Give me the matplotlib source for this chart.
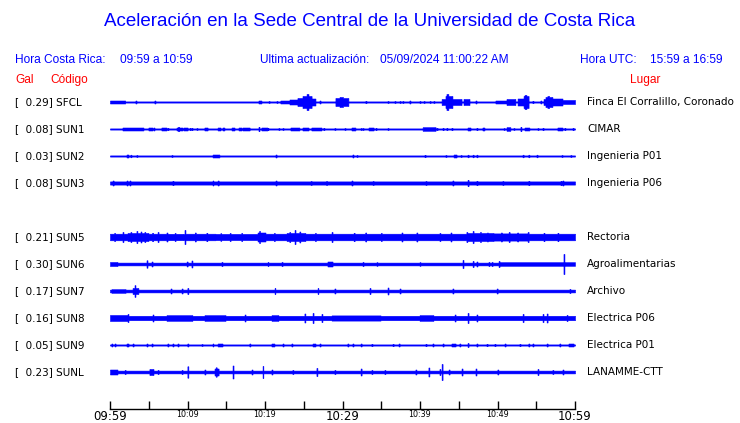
import numpy as np
import matplotlib
matplotlib.use("Agg")
import matplotlib.pyplot as plt

# --- datos ---------------------------------------------------------------
codes = ["SFCL", "SUN1", "SUN2", "SUN3", "SUN5", "SUN6", "SUN7", "SUN8", "SUN9", "SUNL"]
gal = [0.29, 0.08, 0.03, 0.08, 0.21, 0.30, 0.17, 0.16, 0.05, 0.23]
places = ["Finca El Corralillo, Coronado", "CIMAR", "Ingenieria P01", "Ingenieria P06",
          "Rectoria", "Agroalimentarias", "Archivo", "Electrica P06", "Electrica P01",
          "LANAMME-CTT"]
tick_labels = ["09:59", "10:09", "10:19", "10:29", "10:39", "10:49", "10:59"]

# nivel de ruido de fondo de cada traza
base = [0.6, 0.6, 0.6, 1.6, 2.7, 1.4, 1.4, 2.2, 0.6, 1.4]

# eventos: (minuto inicio, minuto fin, amplitud)
ev_SFCL = [(0.0, 1.9, 1.5), (3.35, 3.35, 1.5), (5.81, 5.81, 1.5), (19.23, 19.48, 1.5),
           (20.52, 20.52, 1), (21.55, 21.55, 1), (22.06, 23.23, 1.5), (23.23, 24.26, 2.5),
           (24.26, 24.9, 4), (24.9, 25.94, 6), (25.42, 25.55, 8), (25.94, 26.45, 3.5),
           (27.10, 27.10, 1.5), (29.16, 30.71, 4), (29.68, 30.0, 5), (33.03, 33.03, 1.2),
           (35.87, 35.87, 1), (36.77, 36.77, 1), (37.42, 37.42, 1), (37.81, 37.81, 1),
           (38.71, 38.71, 1.5), (40.0, 40.0, 1), (40.52, 40.52, 1), (41.29, 41.29, 1),
           (41.81, 41.81, 1), (42.84, 43.35, 3), (43.35, 44.13, 6), (43.48, 43.61, 8),
           (44.13, 45.29, 3), (45.68, 46.32, 3), (47.23, 47.23, 1.5), (49.81, 51.23, 1.5),
           (51.23, 52.26, 3), (52.65, 53.42, 3.5), (53.42, 53.94, 6), (53.55, 53.68, 7),
           (54.58, 54.58, 1.2), (55.61, 55.61, 1.5), (56.0, 56.9, 3), (56.26, 57.03, 5),
           (56.5, 56.6, 6), (57.03, 58.32, 3.5), (58.32, 60, 2)]
ev_SUN1 = [(1.68, 3.35, 1.5), (3.48, 4.26, 1.5), (5.03, 5.42, 1.5), (5.68, 5.68, 1.5),
           (6.71, 7.23, 1.5), (7.48, 7.48, 1.2), (8.65, 9.29, 1.5), (8.85, 8.85, 2.2),
           (9.55, 9.94, 1.5), (10.32, 10.32, 1.2), (10.58, 10.58, 1.2), (11.23, 11.23, 1),
           (12.26, 12.52, 1.5), (13.94, 14.19, 1.5), (14.58, 14.71, 1.5), (15.74, 16.0, 1.5),
           (16.65, 16.90, 1.5), (17.16, 17.94, 1.5), (19.23, 19.23, 2.2), (19.61, 20.26, 1.5),
           (20.39, 20.39, 1.2), (21.81, 21.81, 1), (22.32, 22.32, 1), (23.35, 24.39, 1.5),
           (24.9, 25.55, 1.5), (26.06, 27.23, 1.5), (27.61, 27.61, 1.2), (29.03, 29.03, 1),
           (30.32, 30.32, 1), (31.23, 31.61, 1.5), (32.39, 32.39, 1), (32.65, 32.65, 1),
           (33.42, 33.94, 1.5), (34.32, 34.32, 1.2), (35.87, 35.87, 1), (40.39, 41.94, 1.8),
           (42.19, 42.19, 1.2), (42.97, 42.97, 1.2), (43.48, 43.48, 1.2), (44.13, 44.13, 1.2),
           (46.19, 46.45, 1.5), (47.35, 47.35, 1.2), (48.13, 48.26, 1.5), (50.84, 50.84, 1),
           (51.23, 51.61, 1.8), (52.13, 52.13, 1), (53.03, 53.03, 2.2), (53.55, 54.06, 1.5),
           (55.23, 55.23, 1), (55.87, 55.87, 1.2), (57.81, 58.32, 1.5), (58.71, 58.71, 1.2),
           (59.74, 59.74, 1.2)]
ev_SUN2 = [(2.19, 2.32, 1.5), (2.71, 2.71, 1.3), (3.48, 3.48, 1), (8.0, 8.0, 1),
           (13.29, 14.06, 1.5), (21.42, 21.42, 1.5), (31.35, 31.35, 1.5), (31.87, 31.87, 1),
           (40.65, 40.65, 1.2), (43.35, 43.35, 1), (44.39, 44.65, 1.5), (45.29, 45.29, 1),
           (46.19, 46.19, 1.3), (46.84, 46.84, 1.3), (47.35, 47.35, 1.3), (53.29, 53.29, 1.3),
           (54.06, 54.06, 1.3), (55.10, 55.10, 1.3), (58.32, 58.32, 1), (59.48, 59.48, 1)]
ev_SUN3 = [(0.39, 0.39, 2.5), (2.19, 2.19, 2.5), (2.58, 2.58, 2.5), (8.13, 8.13, 2.2),
           (13.29, 13.29, 2.5), (13.94, 13.94, 2.5), (21.42, 21.42, 2.5), (25.94, 25.94, 2),
           (27.96, 27.96, 2), (31.23, 31.23, 2.5), (33.94, 33.94, 2), (40.77, 40.77, 2),
           (44.26, 44.26, 2.5), (46.19, 46.19, 3.2), (47.35, 47.35, 2.2), (50.71, 50.71, 2),
           (54.06, 54.06, 2.2), (58.19, 58.19, 2.2), (58.45, 58.45, 2.5)]
ev_SUN5 = [(0, 2.32, 3.3), (1.68, 1.68, 5), (0.6, 0.6, 4), (2.32, 4.9, 4), (2.7, 2.7, 5),
           (3.48, 3.48, 6), (4.0, 4.0, 5.5), (4.5, 4.5, 5), (4.9, 7.48, 3.3), (6.19, 6.19, 5),
           (5.5, 5.5, 4.2), (7.35, 7.35, 4.5), (7.48, 9.42, 3.2), (8.4, 8.4, 4),
           (9.68, 9.68, 7), (9.68, 13.55, 3.3), (11.0, 11.0, 4.5), (12.5, 12.5, 4.2),
           (13.55, 19.10, 3.1), (14.3, 14.3, 3.8), (15.5, 15.5, 4), (17.0, 17.0, 4),
           (19.10, 20.0, 4.5), (19.3, 19.3, 6), (20.0, 22.84, 3.3), (21.2, 21.2, 4),
           (22.84, 25.16, 4), (23.87, 23.87, 7), (24.5, 24.5, 5.5), (23.2, 23.2, 5),
           (25.16, 30.32, 3.3), (26.5, 26.5, 4), (28.65, 28.65, 5), (30.32, 37.42, 3.3),
           (31.5, 31.5, 4.2), (33, 33, 4.5), (35, 35, 4), (37.68, 37.68, 4.5),
           (37.42, 46.06, 3.3), (39.61, 39.61, 4.5), (42.58, 42.58, 4), (44, 44, 4.5),
           (46.06, 46.06, 5), (46.84, 46.84, 6), (46.06, 49.42, 4), (47.8, 47.8, 5),
           (48.7, 48.7, 4.5), (49.42, 53.81, 3.6), (50.5, 50.5, 4.5), (51.5, 51.5, 5),
           (52.6, 52.6, 4.5), (53.94, 53.94, 5), (53.81, 60, 3.3), (56, 56, 4.2),
           (57.8, 57.8, 4.2)]
ev_SUN6 = [(0, 0.9, 2), (4.77, 4.77, 3.7), (5.42, 5.42, 2.5), (9.94, 9.94, 2.5),
           (10.58, 10.58, 3.5), (14.45, 14.45, 2), (20.39, 20.39, 2), (22.19, 22.19, 2),
           (28.13, 28.65, 2.5), (32.65, 32.65, 2), (34.45, 34.45, 1.8), (40.0, 40.0, 1.8),
           (45.55, 45.55, 4), (46.84, 46.84, 3), (47.35, 47.35, 2.5), (48.90, 48.90, 2),
           (49.29, 49.29, 2), (50.19, 50.19, 3), (50.32, 60, 1.8), (58.58, 58.58, 10)]
ev_SUN7 = [(0.26, 1.94, 1.8), (2.97, 3.61, 3), (3.23, 3.23, 5.8), (7.87, 7.87, 2.5),
           (9.29, 9.29, 2.5), (10.06, 10.06, 3), (21.29, 21.29, 3), (26.84, 26.84, 3),
           (29.03, 29.03, 2.5), (33.55, 33.55, 3), (35.87, 35.87, 3.5), (37.42, 37.42, 2.5),
           (44.26, 44.26, 2.5), (49.94, 49.94, 2.5), (59.35, 59.35, 2)]
ev_SUN8 = [(0, 2.32, 3), (2.32, 2.32, 4), (5.55, 5.55, 3.5), (7.35, 10.58, 2.8),
           (12.26, 14.84, 2.8), (17.42, 17.42, 3.5), (20.90, 21.68, 2.8), (25.16, 25.16, 4.5),
           (26.19, 26.19, 5), (27.35, 27.35, 4), (28.65, 34.84, 2.6), (40.0, 41.68, 2.8),
           (44.52, 44.52, 3.5), (46.19, 46.19, 5), (47.35, 47.35, 3.5), (53.29, 53.29, 4),
           (55.87, 55.87, 4), (56.39, 56.39, 4.5), (58.97, 58.97, 3)]
ev_SUN9 = [(0.26, 0.26, 1.5), (0.65, 0.65, 1.5), (2.19, 2.32, 1.5), (2.97, 2.97, 1.5),
           (4.77, 4.77, 1.5), (5.42, 5.42, 1.5), (7.48, 7.48, 1.5), (8.13, 8.13, 1.5),
           (8.77, 8.77, 1.5), (10.06, 10.06, 1.5), (11.87, 11.87, 1), (13.29, 13.29, 1.5),
           (13.94, 14.45, 1.5), (18.06, 18.06, 1.5), (20.90, 21.16, 1.5), (22.32, 22.32, 1.5),
           (23.48, 23.48, 1.5), (26.19, 26.45, 1.5), (27.10, 27.10, 1.5), (30.71, 30.71, 1.5),
           (31.35, 31.35, 1.5), (32.39, 32.39, 1.5), (33.81, 33.81, 1.2), (36.52, 36.52, 1.2),
           (37.29, 37.29, 1.5), (40.77, 40.77, 1.2), (41.68, 41.68, 1.5), (42.97, 42.97, 1.5),
           (44.13, 44.52, 1.5), (45.16, 45.16, 1.5), (46.19, 46.19, 2), (47.35, 47.35, 1.5),
           (48.65, 48.65, 1.2), (49.68, 49.68, 1.2), (50.97, 50.97, 1.5), (52.90, 52.90, 1.2),
           (54.06, 54.06, 1.5), (54.58, 54.58, 1.5), (56.39, 56.39, 1.5), (58.06, 58.06, 1.5),
           (59.23, 59.74, 1.5)]
ev_SUNL = [(0, 0.9, 2.5), (1.94, 1.94, 2), (5.16, 5.55, 3), (6.19, 6.19, 2), (9.29, 9.29, 2),
           (10.06, 10.06, 5.7), (12.26, 12.26, 2.5), (13.55, 13.94, 3.5), (13.7, 13.7, 4.7),
           (15.87, 15.87, 6.5), (18.32, 18.32, 2.5), (19.74, 19.74, 6), (20.90, 20.90, 2.5),
           (23.61, 23.61, 2), (26.71, 26.71, 4), (29.03, 29.03, 2), (32.39, 32.39, 3.5),
           (33.81, 33.81, 2), (35.48, 35.48, 2), (39.48, 39.48, 2.5), (41.16, 41.16, 4.5),
           (42.58, 42.58, 3), (42.84, 42.84, 8), (43.74, 43.74, 2.5), (45.42, 45.42, 3.5),
           (47.23, 47.23, 3.5), (50.06, 50.06, 2.5), (55.23, 55.23, 3), (57.16, 57.16, 2),
           (58.45, 58.45, 2.5)]

events = [ev_SFCL, ev_SUN1, ev_SUN2, ev_SUN3, ev_SUN5, ev_SUN6, ev_SUN7, ev_SUN8, ev_SUN9, ev_SUNL]

# --- figura ---------------------------------------------------------------
W, H = 740, 423
fig = plt.figure(figsize=(W / 100, H / 100), dpi=100)
BLUE = "#0000ff"
RED = "#ff0000"


def ftext(x, y, s, **kw):
    # texto en coordenadas de pixel (y hacia abajo)
    fig.text(x / W, 1 - y / H, s, va="center", **kw)


ftext(370, 22, "Aceleración en la Sede Central de la Universidad de Costa Rica",
      ha="center", color=BLUE, fontsize=13.5, family="Liberation Sans")
hdr = dict(color=BLUE, fontsize=8.6, family="Liberation Sans")
ftext(15, 60, "Hora Costa Rica:", **hdr)
ftext(120, 60, "09:59 a 10:59", **hdr)
ftext(260, 60, "Ultima actualización:", **hdr)
ftext(380, 60, "05/09/2024 11:00:22 AM", **hdr)
ftext(580, 60, "Hora UTC:", **hdr)
ftext(650, 60, "15:59 a 16:59", **hdr)
red = dict(color=RED, fontsize=8.6, family="Liberation Sans")
ftext(15, 80, "Gal", **red)
ftext(50, 80, "Código", **red)
ftext(630, 80, "Lugar", **red)

x0, x1, ytop, ybot = 110, 575, 90, 409
ax = fig.add_axes([x0 / W, 1 - ybot / H, (x1 - x0) / W, (ybot - ytop) / H])
ax.set_xlim(0, 60)
ax.set_ylim(ybot, ytop)

rows = [0, 1, 2, 3, 5, 6, 7, 8, 9, 10]
t = np.linspace(0, 60, 2401)
for i in range(len(codes)):
    yc = 102 + 27 * rows[i]
    env = np.full_like(t, base[i])
    for a, b, amp in events[i]:
        m = (t >= a - 0.06) & (t <= max(a, b) + 0.06)
        env[m] = np.maximum(env[m], amp)
    ax.fill_between(t, yc - env, yc + env, step="mid", color=BLUE, lw=0.4)
    ftext(15, yc, "[  %.2f] %s" % (gal[i], codes[i]), fontsize=7.5, color="black")
    ftext(587, yc, places[i], fontsize=7.5, color="black")

for s in ["top", "left", "right"]:
    ax.spines[s].set_visible(False)
ax.spines["bottom"].set_linewidth(1)
ax.set_yticks([])
ax.set_xticks(np.arange(0, 61, 5))
ax.set_xticklabels([tick_labels[k // 2] if k % 2 == 0 else "" for k in range(13)])
ax.tick_params(axis="x", direction="in", length=6, width=1, pad=0.5)
for k, lab in enumerate(ax.get_xticklabels()):
    lab.set_fontsize(8.5 if k in (0, 6, 12) else 5.8)

fig.savefig("out.png", dpi=100)
